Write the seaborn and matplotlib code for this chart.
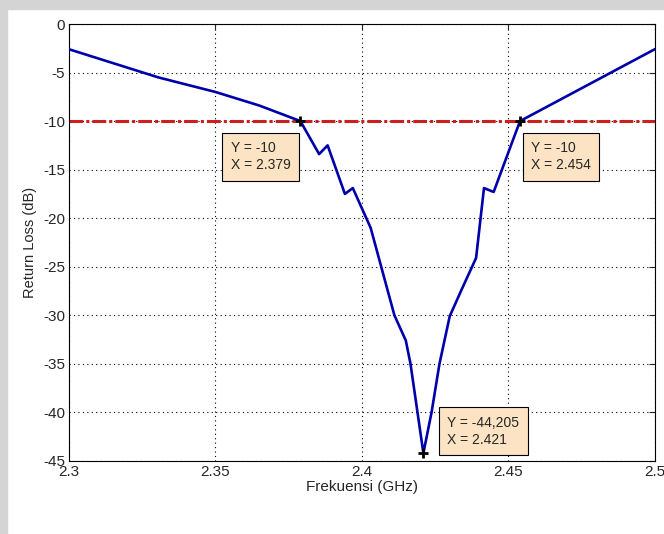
import pandas as pd
import matplotlib
matplotlib.use('Agg')
import matplotlib.pyplot as plt
import matplotlib.ticker as mticker
from matplotlib.patches import Rectangle
import seaborn as sns

# datos
frekuensi = [2.300, 2.3305, 2.350, 2.365, 2.379, 2.3854, 2.3883, 2.3942, 2.3969, 2.403,
             2.4111, 2.415, 2.4166, 2.421, 2.4238, 2.4265, 2.430, 2.434, 2.439,
             2.4417, 2.445, 2.454, 2.477, 2.500]
return_loss = [-2.6, -5.5, -7.0, -8.4, -10.0, -13.4, -12.5, -17.5, -16.9, -21.0,
               -30.0, -32.6, -35.0, -44.205, -40.0, -35.0, -30.1, -27.4, -24.1,
               -16.9, -17.3, -10.0, -6.3, -2.6]

batas = -10
tip_x = [2.379, 2.454, 2.421]
tip_y = [-10, -10, -44.205]
tip_labels = ['Y = -10\nX = 2.379', 'Y = -10\nX = 2.454', 'Y = -44,205\nX = 2.421']

df = pd.DataFrame({'frekuensi': frekuensi, 'rl': return_loss})

sns.set_style('white')
plt.rcParams['font.family'] = ['Liberation Sans', 'DejaVu Sans']
plt.rcParams['axes.unicode_minus'] = False

fig = plt.figure(figsize=(6.64, 5.34), dpi=100, facecolor='white')
# borde gris del screenshot
fig.patches.append(Rectangle((0, 0.983), 1, 0.017, transform=fig.transFigure, color='#d4d4d4', zorder=0))
fig.patches.append(Rectangle((0, 0), 0.011, 1, transform=fig.transFigure, color='#d4d4d4', zorder=0))

ax = fig.add_axes([0.104, 0.137, 0.882, 0.818])

ax.axhline(batas, color='#cc2020', lw=2.2, dashes=(4.5, 1.0, 1.0, 1.0), zorder=2)
sns.lineplot(data=df, x='frekuensi', y='rl', color='#0000aa', lw=1.9, sort=False, ax=ax, zorder=3)

ax.plot(tip_x, tip_y, ls='none', marker='+', ms=7, mew=2, color='black', zorder=5)

bbox = dict(boxstyle='square,pad=0.6', fc='#fbe3c3', ec='black', lw=0.8)
offsets = [(-10, -20), (11, -20), (24, 6)]
aligns = [('right', 'top'), ('left', 'top'), ('left', 'bottom')]
for x, y, lab, off, al in zip(tip_x, tip_y, tip_labels, offsets, aligns):
    ax.annotate(lab, xy=(x, y), xytext=off, textcoords='offset pixels',
                ha=al[0], va=al[1], multialignment='left', fontsize=10,
                linespacing=1.3, bbox=bbox, zorder=6)

ax.set_xlim(2.3, 2.5)
ax.set_ylim(-45, 0)
ax.xaxis.set_major_locator(mticker.MultipleLocator(0.05))
ax.yaxis.set_major_locator(mticker.MultipleLocator(5))
ax.xaxis.set_major_formatter(mticker.FormatStrFormatter('%g'))
ax.grid(True, color='black', ls=(0, (1, 3)), lw=0.8)
ax.tick_params(direction='in', length=4, top=True, right=True, labelsize=11, width=0.8, pad=3)
for s in ax.spines.values():
    s.set_color('black')
    s.set_linewidth(0.8)

ax.set_xlabel('Frekuensi (GHz)', fontsize=11, labelpad=1)
ax.set_ylabel('Return Loss (dB)', fontsize=10.5, labelpad=4)

plt.savefig('out.png', dpi=100)
